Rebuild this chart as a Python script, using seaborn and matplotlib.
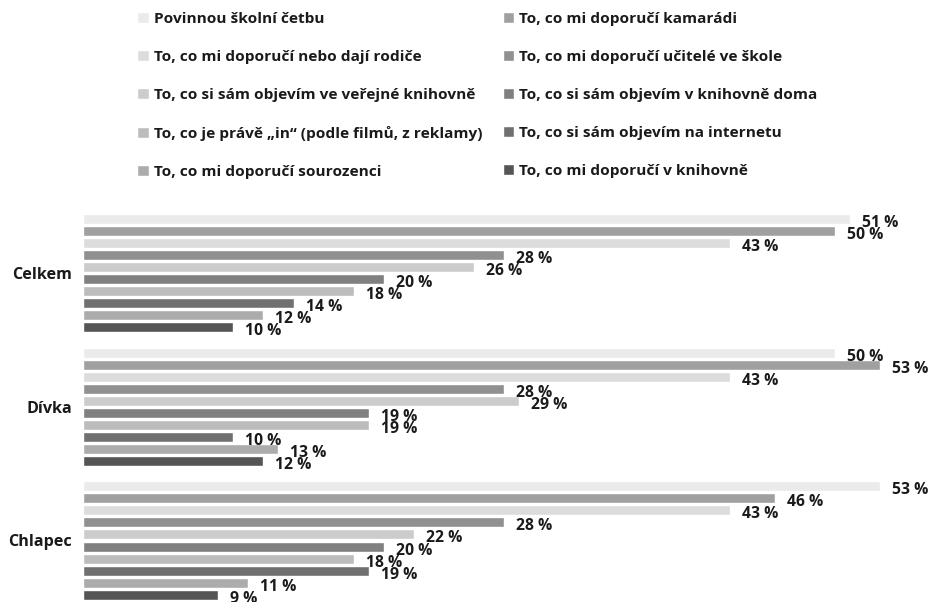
import numpy as np
import pandas as pd
import matplotlib
matplotlib.use("Agg")
import matplotlib.pyplot as plt
import seaborn as sns

# Data
groups = ["Celkem", "Dívka", "Chlapec"]
sources = [
    "Povinnou školní četbu",
    "To, co mi doporučí kamarádi",
    "To, co mi doporučí nebo dají rodiče",
    "To, co mi doporučí učitelé ve škole",
    "To, co si sám objevím ve veřejné knihovně",
    "To, co si sám objevím v knihovně doma",
    "To, co je právě „in“ (podle filmů, z reklamy)",
    "To, co si sám objevím na internetu",
    "To, co mi doporučí sourozenci",
    "To, co mi doporučí v knihovně",
]
celkem = [51, 50, 43, 28, 26, 20, 18, 14, 12, 10]
divka = [50, 53, 43, 28, 29, 19, 19, 10, 13, 12]
chlapec = [53, 46, 43, 28, 22, 20, 18, 19, 11, 9]

colors = ["#ebebeb", "#a0a0a0", "#dcdcdc", "#909090", "#cccccc",
          "#808080", "#bcbcbc", "#707070", "#acacac", "#555555"]

rows = []
for g, vals in zip(groups, [celkem, divka, chlapec]):
    for s, v in zip(sources, vals):
        rows.append({"group": g, "source": s, "value": v})
df = pd.DataFrame(rows)

sns.set_theme(style="white")
plt.rcParams["font.family"] = ["Open Sans", "DejaVu Sans"]
plt.rcParams["font.weight"] = "bold"

fig = plt.figure(figsize=(9.33, 6.02), dpi=100)
ax = fig.add_axes([83 / 933, 0, (925 - 83) / 933, 395.75 / 602])

sns.barplot(data=df, y="group", x="value", hue="source", hue_order=sources,
            order=groups, palette=colors, orient="h", width=0.9, gap=0.17,
            saturation=1, ax=ax)

handles, labels = ax.get_legend_handles_labels()
ax.get_legend().remove()

# value labels
for cont in ax.containers:
    for patch, v in zip(cont.patches, cont.datavalues):
        ax.annotate(f"{v:.0f} %", xy=(patch.get_width(), patch.get_y() + patch.get_height() / 2),
                    xytext=(12, -4), textcoords="offset pixels", ha="left", va="center",
                    fontsize=11.3, fontweight="bold", color="#1a1a1a", annotation_clip=False)

ax.set_xlim(0, 56)
ax.set_ylim(2.46, -0.5)
ax.set_xlabel("")
ax.set_ylabel("")
ax.set_xticks([])
ax.tick_params(axis="y", length=0, pad=8, labelsize=11.6)
for lbl in ax.get_yticklabels():
    lbl.set_fontweight("bold")
    lbl.set_color("#1a1a1a")
sns.despine(ax=ax, left=True, bottom=True)

# legend fills row by row in the reference
order = [0, 2, 4, 6, 8, 1, 3, 5, 7, 9]
leg = fig.legend([handles[i] for i in order], [labels[i] for i in order],
                 loc="upper left", bbox_to_anchor=(137 / 933, 1 - 12 / 602),
                 ncol=2, frameon=False, handlelength=0.75, handleheight=0.75,
                 handletextpad=0.35, labelspacing=1.55, columnspacing=1.3, borderaxespad=0,
                 borderpad=0, prop={"weight": "bold", "size": 11.1})
for t in leg.get_texts():
    t.set_color("#1a1a1a")

fig.savefig("out.png", dpi=100)
